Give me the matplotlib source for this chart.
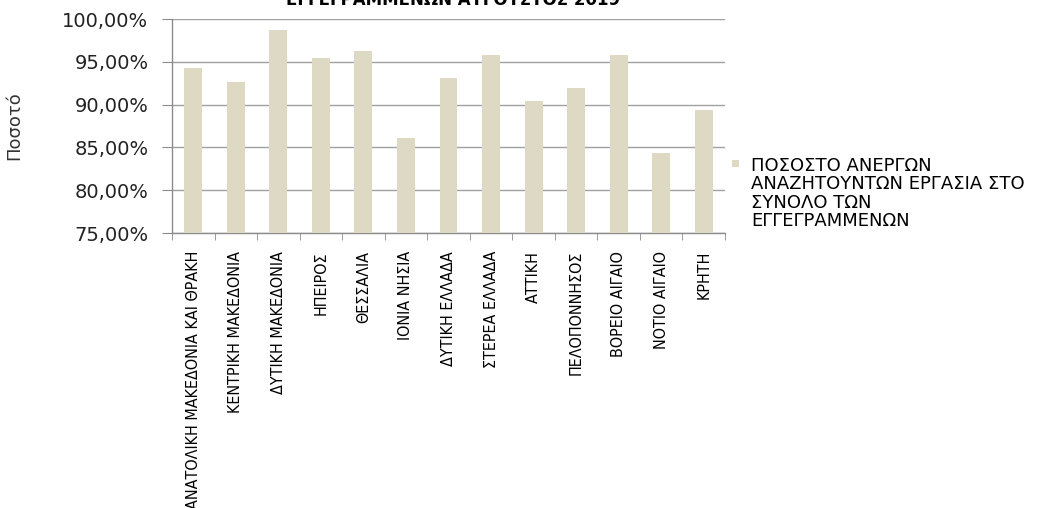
import matplotlib
matplotlib.use("Agg")
import matplotlib.pyplot as plt
from matplotlib.ticker import FuncFormatter, FixedLocator
from matplotlib.patches import Rectangle
import numpy as np

regions = [
    "ΑΝΑΤΟΛΙΚΗ ΜΑΚΕΔΟΝΙΑ ΚΑΙ ΘΡΑΚΗ",
    "ΚΕΝΤΡΙΚΗ ΜΑΚΕΔΟΝΙΑ",
    "ΔΥΤΙΚΗ ΜΑΚΕΔΟΝΙΑ",
    "ΗΠΕΙΡΟΣ",
    "ΘΕΣΣΑΛΙΑ",
    "ΙΟΝΙΑ ΝΗΣΙΑ",
    "ΔΥΤΙΚΗ ΕΛΛΑΔΑ",
    "ΣΤΕΡΕΑ ΕΛΛΑΔΑ",
    "ΑΤΤΙΚΗ",
    "ΠΕΛΟΠΟΝΝΗΣΟΣ",
    "ΒΟΡΕΙΟ ΑΙΓΑΙΟ",
    "ΝΟΤΙΟ ΑΙΓΑΙΟ",
    "ΚΡΗΤΗ",
]
values = [94.25, 92.69, 98.68, 95.45, 96.27, 86.15, 93.15, 95.80, 90.43, 91.95, 95.80, 84.33, 89.35]
series_label = "ΠΟΣΟΣΤΟ ΑΝΕΡΓΩΝ\nΑΝΑΖΗΤΟΥΝΤΩΝ ΕΡΓΑΣΙΑ ΣΤΟ\nΣΥΝΟΛΟ ΤΩΝ\nΕΓΓΕΓΡΑΜΜΕΝΩΝ"
title_text = "ΕΓΓΕΓΡΑΜΜΕΝΩΝ ΑΥΓΟΥΣΤΟΣ 2019"
y_label = "Ποσοτό"
y_ticks = [75, 80, 85, 90, 95, 100]

W, H = 1052, 508
fig = plt.figure(figsize=(W / 100, H / 100), dpi=100)
ax = fig.add_axes([172 / W, 1 - 233 / H, (725 - 172) / W, (233 - 19) / H])

x = np.arange(len(regions))
bar_color = "#ddd9c3"
ax.bar(x, values, width=0.42, color=bar_color, label=series_label, zorder=3)

ax.set_xlim(-0.5, len(regions) - 0.5)
ax.set_ylim(75, 100)
ax.set_yticks(y_ticks)
ax.yaxis.set_major_formatter(FuncFormatter(lambda v, p: f"{v:.2f}%".replace(".", ",")))
ax.grid(axis="y", color="#a0a0a0", linewidth=1, zorder=0)
ax.set_axisbelow(True)

for s in ["top", "right"]:
    ax.spines[s].set_visible(False)
for s in ["left", "bottom"]:
    ax.spines[s].set_color("#8c8c8c")
    ax.spines[s].set_linewidth(1)

ax.tick_params(axis="y", length=7, color="#8c8c8c", pad=10, labelsize=14, labelcolor="#222222")
ax.set_xticks(x)
ax.set_xticklabels(regions, rotation=90, va="top", ha="center",
                   family="DejaVu Sans", fontstretch="condensed",
                   fontsize=11.5, color="black")
ax.tick_params(axis="x", length=0, pad=13)
ax.xaxis.set_minor_locator(FixedLocator(np.arange(-0.5, len(regions), 1.0)))
ax.tick_params(axis="x", which="minor", length=5, color="#8c8c8c")

ax.set_ylabel(y_label, fontsize=13, color="#333333", labelpad=0)
ax.yaxis.set_label_coords(-149 / (725 - 172), 0.5)

fig.text(453 / W, 1 - 5 / H, title_text, ha="center", va="baseline",
         fontsize=12, fontweight="bold", color="black")

# legend (single series): swatch + wrapped label
fig.patches.append(Rectangle((732 / W, 1 - 167 / H), 7 / W, 7 / H,
                             transform=fig.transFigure, facecolor=bar_color,
                             edgecolor="none"))
fig.text(751 / W, 1 - 157 / H, series_label, ha="left", va="top",
         fontsize=13, linespacing=1.02, color="black")

fig.savefig("out.png", dpi=100)
